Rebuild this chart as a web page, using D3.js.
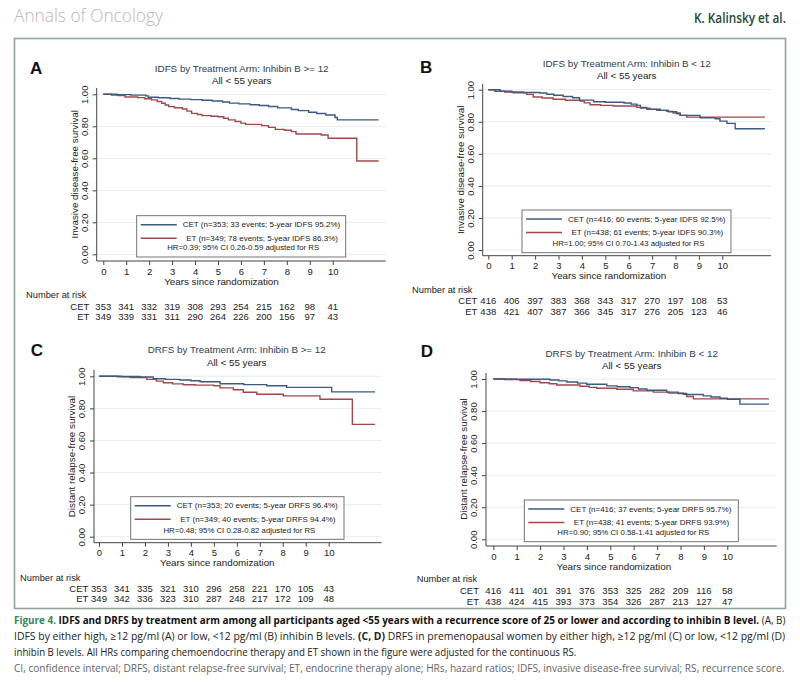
<!DOCTYPE html>
<html>
<head>
<meta charset="utf-8">
<script src="https://cdn.jsdelivr.net/npm/d3@7"></script>
<style>
  body { margin: 0; background: #fff; }
  svg { display: block; }
</style>
</head>
<body>
<div id="chart"></div>
<script>
// ---- data ----
const years = [0, 1, 2, 3, 4, 5, 6, 7, 8, 9, 10];
const yTicks = [0, 0.2, 0.4, 0.6, 0.8, 1.0];

// Kaplan-Meier step points [year, survival]
const cetA = [[0,1],[0.6,0.998],[1.2,0.995],[1.85,0.99],[1.96,0.982],[2.4,0.978],[2.9,0.974],[3.3,0.97],[3.8,0.967],[4.3,0.963],[4.75,0.958],[5.2,0.952],[5.5,0.945],[5.9,0.94],[6.4,0.935],[6.8,0.93],[7.2,0.924],[7.6,0.915],[8.2,0.905],[8.5,0.898],[8.95,0.888],[9.3,0.88],[9.7,0.871],[10.1,0.855],[10.2,0.84],[12.0,0.84]];
const etA = [[0,1],[0.35,0.996],[0.65,0.992],[0.95,0.983],[1.5,0.979],[1.8,0.972],[2.1,0.965],[2.35,0.955],[2.55,0.944],[2.7,0.933],[2.85,0.923],[3.1,0.916],[3.45,0.908],[3.65,0.895],[3.85,0.881],[4.1,0.874],[4.3,0.867],[4.7,0.863],[5.0,0.86],[5.25,0.85],[5.45,0.84],[5.75,0.83],[6.0,0.82],[6.2,0.812],[6.9,0.804],[7.2,0.793],[7.5,0.781],[7.9,0.775],[8.2,0.767],[8.4,0.752],[9.5,0.746],[9.8,0.725],[11.05,0.583],[12.0,0.583]];
const cetB = [[0,1],[0.5,0.99],[1.0,0.986],[1.5,0.983],[2.2,0.979],[2.5,0.972],[2.8,0.965],[3.2,0.958],[3.6,0.95],[3.9,0.935],[4.5,0.925],[5.0,0.922],[5.8,0.917],[6.1,0.91],[6.35,0.902],[6.5,0.885],[6.9,0.878],[7.35,0.871],[7.7,0.862],[8.05,0.85],[8.2,0.84],[9.05,0.825],[9.7,0.819],[9.9,0.804],[10.2,0.79],[10.55,0.756],[11.82,0.756]];
const etB = [[0,1],[0.28,0.99],[0.7,0.985],[1.07,0.981],[1.64,0.971],[1.92,0.954],[2.3,0.948],[2.78,0.94],[3.3,0.934],[3.92,0.929],[4.1,0.918],[4.35,0.906],[4.8,0.902],[5.34,0.898],[6.34,0.89],[6.77,0.877],[7.2,0.871],[7.62,0.865],[7.9,0.855],[8.2,0.84],[8.48,0.829],[11.82,0.829]];
const cetC = [[0,1],[1.0,0.999],[1.78,0.996],[2.36,0.985],[2.9,0.981],[3.53,0.977],[4.0,0.972],[4.4,0.966],[5.27,0.954],[6.3,0.948],[7.3,0.941],[8.17,0.931],[10.13,0.903],[12.02,0.903]];
const etC = [[0,1],[0.8,0.997],[1.35,0.992],[2.08,0.981],[2.5,0.97],[2.8,0.96],[3.2,0.953],[3.67,0.947],[4.2,0.945],[5.0,0.941],[5.27,0.928],[5.85,0.916],[6.28,0.901],[6.87,0.888],[8.02,0.878],[9.62,0.857],[11.03,0.70],[12.02,0.70]];
const cetD = [[0,1],[1.0,0.998],[2.42,0.994],[2.8,0.988],[3.14,0.981],[3.6,0.974],[3.99,0.967],[4.85,0.957],[5.3,0.952],[5.84,0.946],[6.2,0.938],[6.56,0.93],[7.41,0.918],[7.9,0.91],[8.26,0.903],[8.97,0.895],[9.3,0.888],[9.69,0.88],[10.0,0.874],[10.54,0.843],[11.78,0.843]];
const etD = [[0,1],[0.5,0.996],[1.14,0.99],[1.6,0.984],[2.0,0.977],[2.4,0.97],[2.71,0.963],[3.7,0.955],[4.1,0.948],[4.42,0.942],[5.27,0.936],[5.98,0.926],[6.84,0.918],[7.5,0.912],[8.12,0.905],[8.26,0.891],[8.55,0.876],[11.78,0.876]];

// numbers at risk
const riskCetA = [353, 341, 332, 319, 308, 293, 254, 215, 162, 98, 41];
const riskEtA  = [349, 339, 331, 311, 290, 264, 226, 200, 156, 97, 43];
const riskCetB = [416, 406, 397, 383, 368, 343, 317, 270, 197, 108, 53];
const riskEtB  = [438, 421, 407, 387, 366, 345, 317, 276, 205, 123, 46];
const riskCetC = [353, 341, 335, 321, 310, 296, 258, 221, 170, 105, 43];
const riskEtC  = [349, 342, 336, 323, 310, 287, 248, 217, 172, 109, 48];
const riskCetD = [416, 411, 401, 391, 376, 353, 325, 282, 209, 116, 58];
const riskEtD  = [438, 424, 415, 393, 373, 354, 326, 287, 213, 127, 47];

const letters = ["A", "B", "C", "D"];
const titles = ["IDFS by Treatment Arm: Inhibin B >= 12", "IDFS by Treatment Arm: Inhibin B < 12",
                "DRFS by Treatment Arm: Inhibin B >= 12", "DRFS by Treatment Arm: Inhibin B < 12"];
const subtitle = "All < 55 years";
const yTitles = ["Invasive disease-free survival", "Invasive disease-free survival",
                 "Distant relapse-free survival", "Distant relapse-free survival"];
const legendCet = ["CET (n=353; 33 events; 5-year IDFS 95.2%)", "CET (n=416; 60 events; 5-year IDFS 92.5%)",
                   "CET (n=353; 20 events; 5-year DRFS 96.4%)", "CET (n=416; 37 events; 5-year DRFS 95.7%)"];
const legendEt = ["ET (n=349; 78 events; 5-year IDFS 86.3%)", "ET (n=438; 61 events; 5-year IDFS 90.3%)",
                  "ET (n=349; 40 events; 5-year DRFS 94.4%)", "ET (n=438; 41 events; 5-year DRFS 93.9%)"];
const legendHr = ["HR=0.39; 95% CI 0.26-0.59 adjusted for RS", "HR=1.00; 95% CI 0.70-1.43 adjusted for RS",
                  "HR=0.48; 95% CI 0.28-0.82 adjusted for RS", "HR=0.90; 95% CI 0.58-1.41 adjusted for RS"];

// ---- layout (pixels) ----
const W = 800, H = 695;
const CET_COLOR = "#3d5b80", ET_COLOR = "#a3474a";
const FONT = "'Liberation Sans', Arial, sans-serif";

// x0/x10: pixel of year 0 / 10; y0/y1: pixel of survival 0 / 1
const layouts = [
  {x0: 103.3, x10: 332.7, axL: 96.7, axR: 385.7, y0: 254.3, y1: 94.3, axT: 88, axB: 261,
   letter: [30, 74], title: [241.7, 71.5], leg: [136.7, 215.7, 209, 41.3], risk: [26, 89.3, 298.3, 309.6, 320]},
  {x0: 488.3, x10: 722.3, axL: 482.7, axR: 771, y0: 250, y1: 89.7, axT: 84, axB: 255.7,
   letter: [420, 73], title: [626.7, 66.5], leg: [522, 210, 209, 42.7], risk: [412, 477.3, 293.3, 304.3, 315]},
  {x0: 99, x10: 328.7, axL: 94, axR: 381.7, y0: 536.7, y1: 376.3, axT: 370, axB: 542.7,
   letter: [30.7, 356], title: [236.7, 353.2], leg: [130.7, 496.7, 213.3, 42.6], risk: [20, 88.3, 580.6, 591.6, 601.5]},
  {x0: 493.3, x10: 727.3, axL: 486, axR: 776.7, y0: 539.3, y1: 379, axT: 373, axB: 546,
   letter: [420.7, 357], title: [631.7, 356.5], leg: [524.3, 500, 214, 41.7], risk: [416.7, 479, 582.3, 593.5, 604.8]}
];

const curves = [[cetA, etA], [cetB, etB], [cetC, etC], [cetD, etD]];
const risks = [[riskCetA, riskEtA], [riskCetB, riskEtB], [riskCetC, riskEtC], [riskCetD, riskEtD]];

const svg = d3.select("#chart").append("svg")
  .attr("width", W).attr("height", H)
  .style("font-family", FONT);

svg.append("rect").attr("width", W).attr("height", H).attr("fill", "#fff");

// squeeze a text horizontally so that it spans `width` px from x (condensed journal font)
function fitText(sel, x, y, width, anchorEnd) {
  const w = sel.node().getComputedTextLength();
  const s = Math.min(1, width / w);
  const tx = anchorEnd ? x - w * s : x;
  sel.attr("x", 0).attr("y", 0).attr("text-anchor", "start")
    .attr("transform", `translate(${tx},${y}) scale(${s},1)`);
}

// page header
const hdr = svg.append("text")
  .style("font-family", "'Open Sans', sans-serif").style("font-weight", 300)
  .style("font-size", "19px").attr("fill", "#b8b8b8")
  .text("Annals of Oncology");
fitText(hdr, 14, 22, 149);

const auth = svg.append("text")
  .style("font-family", "'Open Sans', sans-serif").style("font-weight", 600)
  .style("font-size", "13.5px").attr("fill", "#1e4a37")
  .text("K. Kalinsky et al.");
fitText(auth, 786, 23, 92, true);

// figure frame
svg.append("rect")
  .attr("x", 14.5).attr("y", 38.5).attr("width", 771).attr("height", 570)
  .attr("fill", "none").attr("stroke", "#8fa698").attr("stroke-width", 1.6);

layouts.forEach((L, i) => {
  const g = svg.append("g");

  const x = d3.scaleLinear().domain([0, 10]).range([L.x0, L.x10]);
  const y = d3.scaleLinear().domain([0, 1]).range([L.y0, L.y1]);

  // panel letter and titles
  g.append("text").attr("x", L.letter[0]).attr("y", L.letter[1])
    .style("font-size", "17px").style("font-weight", "bold").attr("fill", "#111")
    .text(letters[i]);
  g.append("text").attr("x", L.title[0]).attr("y", L.title[1]).attr("text-anchor", "middle")
    .style("font-size", "9.8px").attr("fill", "#2d3d55").text(titles[i]);
  g.append("text").attr("x", L.title[0]).attr("y", L.title[1] + 12.8).attr("text-anchor", "middle")
    .style("font-size", "9.8px").attr("fill", "#222").text(subtitle);

  // gridlines
  g.append("g").selectAll("line").data(yTicks).join("line")
    .attr("x1", L.axL).attr("x2", L.axR)
    .attr("y1", d => y(d)).attr("y2", d => y(d))
    .attr("stroke", "#e6edf1").attr("stroke-width", 1);

  // y axis
  const yAxis = g.append("g").attr("transform", `translate(${L.axL},0)`)
    .call(d3.axisLeft(y).tickValues(yTicks).tickFormat(d3.format(".2f")).tickSize(4).tickSizeOuter(0));
  yAxis.select(".domain").attr("d", `M0,${L.axT}V${L.axB}`).attr("stroke", "#444");
  yAxis.selectAll(".tick line").attr("stroke", "#444");
  yAxis.selectAll(".tick text")
    .attr("x", 0).attr("dy", 0).attr("text-anchor", "middle")
    .attr("transform", "translate(-9,0) rotate(-90)")
    .style("font-size", "9.5px").style("font-family", FONT).attr("fill", "#222");

  g.append("text")
    .attr("transform", `translate(${L.axL - 19},${y(0.5)}) rotate(-90)`)
    .attr("text-anchor", "middle")
    .style("font-size", "9.8px").attr("fill", "#222")
    .text(yTitles[i]);

  // x axis
  const xAxis = g.append("g").attr("transform", `translate(0,${L.axB})`)
    .call(d3.axisBottom(x).tickValues(years).tickFormat(d3.format("d")).tickSize(4).tickSizeOuter(0));
  xAxis.select(".domain").attr("d", `M${L.axL},0H${L.axR}`).attr("stroke", "#444");
  xAxis.selectAll(".tick line").attr("stroke", "#444");
  xAxis.selectAll(".tick text").attr("y", 7).style("font-size", "9.5px")
    .style("font-family", FONT).attr("fill", "#222");

  g.append("text")
    .attr("x", x(5.15)).attr("y", L.axB + 23.5)
    .attr("text-anchor", "middle").style("font-size", "9.8px").attr("fill", "#222")
    .text("Years since randomization");

  // curves
  const line = d3.line().x(d => x(d[0])).y(d => y(d[1])).curve(d3.curveStepAfter);
  [ET_COLOR, CET_COLOR].forEach((c, k) => {
    g.append("path").datum(curves[i][1 - k])
      .attr("d", line).attr("fill", "none")
      .attr("stroke", c).attr("stroke-width", 1.4);
  });

  // legend
  const [lx, ly, lw, lh] = L.leg;
  const lg = g.append("g").attr("transform", `translate(${lx},${ly})`);
  lg.append("rect").attr("width", lw).attr("height", lh)
    .attr("fill", "#fff").attr("stroke", "#666").attr("stroke-width", 0.9);
  [[CET_COLOR, legendCet[i], 9], [ET_COLOR, legendEt[i], 22.5]].forEach(([c, t, dy], k) => {
    lg.append("line").attr("x1", 4).attr("x2", 40).attr("y1", dy).attr("y2", dy)
      .attr("stroke", c).attr("stroke-width", 1.5);
    lg.append("text").attr("x", k === 0 ? 46 : 49.5).attr("y", dy + 2.8)
      .style("font-size", "8px").attr("fill", "#222").text(t);
  });
  lg.append("text").attr("x", lw / 2 + 2).attr("y", lh - 6.5).attr("text-anchor", "middle")
    .style("font-size", "7.8px").attr("fill", "#222").text(legendHr[i]);

  // number at risk table
  const [nx, lblR, ny, cy, ey] = L.risk;
  g.append("text").attr("x", nx).attr("y", ny).style("font-size", "9.3px").attr("fill", "#222")
    .text("Number at risk");
  ["CET", "ET"].forEach((lab, k) => {
    const ry = k === 0 ? cy : ey;
    g.append("text").attr("x", lblR).attr("y", ry).attr("text-anchor", "end")
      .style("font-size", "9.5px").attr("fill", "#222").text(lab);
    g.append("g").selectAll("text").data(risks[i][k]).join("text")
      .attr("x", (d, j) => x(years[j])).attr("y", ry).attr("text-anchor", "middle")
      .style("font-size", "9.5px").attr("fill", "#222").text(d => d);
  });
});

// caption
const capFont = "'Open Sans', sans-serif";
const cap1 = svg.append("text")
  .style("font-family", capFont).style("font-size", "10.5px");
cap1.append("tspan").attr("fill", "#2e8a5e").style("font-weight", 700).text("Figure 4. ");
cap1.append("tspan").attr("fill", "#111").style("font-weight", 700)
  .text("IDFS and DRFS by treatment arm among all participants aged <55 years with a recurrence score of 25 or lower and according to inhibin B level.");
cap1.append("tspan").attr("fill", "#222").text(" (A, B)");
fitText(cap1, 14, 624, 772);

const cap2 = svg.append("text")
  .style("font-family", capFont).style("font-size", "10.5px").attr("fill", "#222");
cap2.append("tspan").text("IDFS by either high, \u226512 pg/ml (A) or low, <12 pg/ml (B) inhibin B levels. ");
cap2.append("tspan").style("font-weight", 700).text("(C, D)");
cap2.append("tspan").text(" DRFS in premenopausal women by either high, \u226512 pg/ml (C) or low, <12 pg/ml (D)");
fitText(cap2, 14, 640, 772);

const cap3 = svg.append("text")
  .style("font-family", capFont).style("font-size", "10.5px").attr("fill", "#222")
  .text("inhibin B levels. All HRs comparing chemoendocrine therapy and ET shown in the figure were adjusted for the continuous RS.");
fitText(cap3, 14, 656, 563);

const cap4 = svg.append("text")
  .style("font-family", capFont).style("font-size", "10.5px").attr("fill", "#666")
  .text("CI, confidence interval; DRFS, distant relapse-free survival; ET, endocrine therapy alone; HRs, hazard ratios; IDFS, invasive disease-free survival; RS, recurrence score.");
fitText(cap4, 14, 672, 772);
</script>
</body>
</html>
